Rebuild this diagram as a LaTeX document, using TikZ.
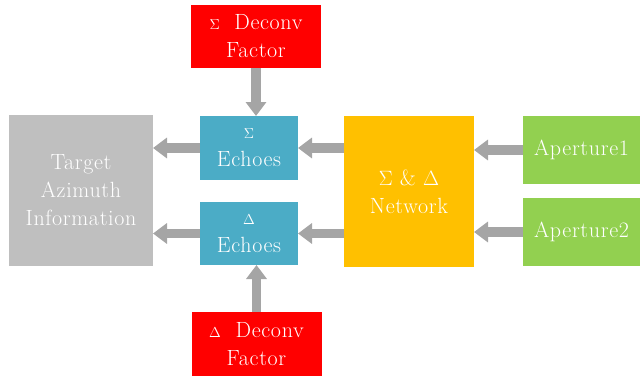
\documentclass[tikz,border=0pt]{standalone}
\usepackage{fontspec}
\setmainfont{Latin Modern Roman}[LetterSpace=3]
\usepackage{tikz}
\usetikzlibrary{arrows.meta}

\definecolor{deconvred}{HTML}{FF0000}
\definecolor{echoblue}{HTML}{4BACC6}
\definecolor{netorange}{HTML}{FFC000}
\definecolor{apgreen}{HTML}{92D050}
\definecolor{infogray}{HTML}{BFBFBF}
\definecolor{arrowgray}{HTML}{A5A5A5}

\begin{document}
\begin{tikzpicture}[x=1pt, y=-1pt,
    box/.style={rectangle, inner sep=0pt, outer sep=0pt, text=white, align=center,
        font=\rmfamily\fontsize{22}{28}\selectfont},
    blockarrow/.style={draw=arrowgray, line width=9.5pt,
        -{Triangle[width=20pt, length=14pt]}}]

    \useasboundingbox (0,0) rectangle (641,380);

    % boxes
    \node[box, fill=deconvred, minimum width=130pt, minimum height=63pt] (topf) at (256,36.5)
        {{\fontsize{15}{15}\selectfont$\Sigma$}\ \ Deconv\\Factor};
    \node[box, fill=deconvred, minimum width=130pt, minimum height=64pt] (botf) at (256.5,344)
        {{\fontsize{15}{15}\selectfont$\Delta$}\ \ Deconv\\Factor};
    \node[box, fill=infogray, minimum width=144pt, minimum height=151pt] (target) at (81,190.5)
        {Target\\Azimuth\\Information};
    \node[box, fill=echoblue, minimum width=98pt, minimum height=64pt] (sig) at (249,148)
        {{\fontsize{15}{20}\selectfont$\Sigma$}\\Echoes};
    \node[box, fill=echoblue, minimum width=98pt, minimum height=63pt] (del) at (249,233.5)
        {{\fontsize{15}{20}\selectfont$\Delta$}\\Echoes};
    \node[box, fill=netorange, minimum width=130pt, minimum height=151pt] (net) at (409,191.5)
        {$\Sigma$ \& $\Delta$\\Network};
    \node[box, fill=apgreen, minimum width=117pt, minimum height=68pt] (ap1) at (581.5,150)
        {Aperture1};
    \node[box, fill=apgreen, minimum width=117pt, minimum height=68pt] (ap2) at (581.5,232)
        {Aperture2};

    % arrows
    \foreach \a in {ap1, ap2} {
        \draw[blockarrow] (\a.west) -- (\a.west -| net.east);
    }
    \foreach \a in {sig, del} {
        \draw[blockarrow] (net.west |- \a) -- (\a.east);
        \draw[blockarrow] (\a.west) -- (\a.west -| target.east);
    }
    \draw[blockarrow] (topf.south) -- (topf.south |- sig.north);
    \draw[blockarrow] (botf.north) -- (botf.north |- del.south);

\end{tikzpicture}
\end{document}
